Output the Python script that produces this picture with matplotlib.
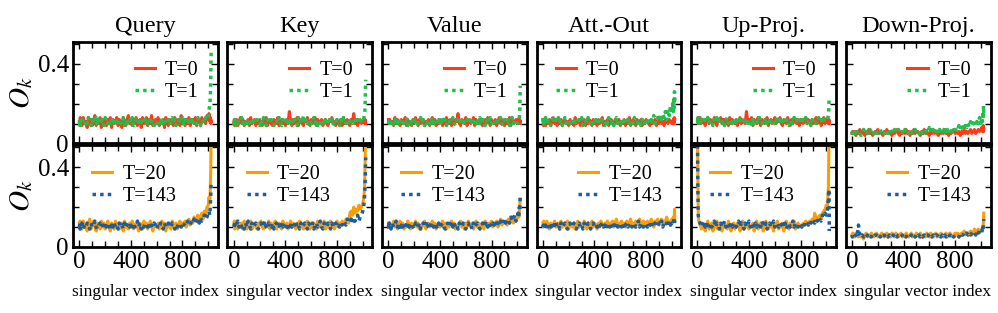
import matplotlib
matplotlib.use("Agg")
import matplotlib.pyplot as plt
from matplotlib.ticker import MultipleLocator, FixedLocator

plt.rcParams['font.family'] = ['Liberation Serif', 'DejaVu Serif']
plt.rcParams['mathtext.fontset'] = 'stix'

# ---------------- data ----------------
titles = ["Query", "Key", "Value", "Att.-Out", "Up-Proj.", "Down-Proj."]
idx = [0, 3, 6] + list(range(10, 1001, 10)) + [1006, 1012, 1016, 1019, 1021, 1023]

top_labels = ["T=0", "T=1"]
bot_labels = ["T=20", "T=143"]

# ---- top row (T=0, T=1) ----
query_t0 = [.11,.09,.13,
    .12,.09,.13,.10,.11,.08,.13,.10,.12,.09,
    .11,.14,.09,.12,.10,.13,.08,.11,.12,.10,
    .09,.12,.11,.13,.08,.12,.10,.11,.13,.09,
    .12,.10,.08,.13,.11,.09,.12,.14,.10,.11,
    .09,.12,.10,.13,.09,.11,.12,.08,.13,.10,
    .11,.13,.09,.12,.10,.14,.09,.11,.12,.10,
    .13,.09,.11,.10,.12,.08,.13,.11,.09,.12,
    .10,.12,.09,.13,.11,.10,.12,.09,.14,.10,
    .11,.09,.12,.10,.13,.09,.11,.12,.10,.13,
    .09,.12,.11,.10,.13,.11,.12,.10,.14,.12,
    .15,.11,.13,.10,.12,.11]
query_t1 = [.10,.12,.09,
    .10,.12,.11,.09,.12,.10,.13,.11,.09,.12,
    .10,.11,.13,.09,.12,.10,.11,.12,.09,.13,
    .11,.10,.12,.09,.11,.13,.10,.12,.11,.09,
    .12,.10,.11,.13,.09,.12,.10,.11,.12,.10,
    .13,.09,.11,.12,.10,.11,.09,.13,.11,.10,
    .12,.09,.11,.10,.13,.11,.12,.09,.11,.10,
    .12,.11,.09,.13,.10,.12,.11,.10,.12,.09,
    .11,.13,.10,.12,.09,.11,.12,.10,.11,.13,
    .09,.12,.10,.11,.13,.10,.12,.09,.11,.12,
    .10,.13,.11,.09,.12,.11,.10,.13,.12,.14,
    .17,.19,.23,.31,.40,.47]
key_t0 = [.10,.12,.09,
    .10,.12,.09,.11,.13,.10,.12,.09,.11,.10,
    .12,.09,.13,.10,.11,.12,.09,.11,.10,.12,
    .11,.09,.12,.10,.13,.09,.11,.12,.10,.09,
    .12,.11,.10,.13,.09,.11,.12,.10,.11,.09,
    .12,.10,.16,.11,.09,.12,.10,.11,.13,.09,
    .11,.12,.10,.09,.12,.11,.13,.10,.09,.12,
    .10,.11,.13,.09,.12,.10,.11,.12,.09,.11,
    .12,.10,.09,.12,.11,.13,.10,.11,.09,.12,
    .10,.11,.12,.09,.13,.10,.11,.12,.10,.09,
    .12,.11,.15,.10,.12,.09,.11,.12,.10,.11,
    .11,.12,.10,.12,.11,.10]
key_t1 = [.11,.09,.12,
    .11,.09,.12,.10,.11,.13,.10,.12,.09,.11,
    .10,.12,.11,.09,.13,.10,.11,.12,.10,.09,
    .12,.10,.13,.11,.09,.12,.10,.11,.12,.10,
    .09,.11,.12,.10,.13,.11,.09,.12,.10,.11,
    .13,.10,.12,.09,.11,.10,.12,.11,.09,.13,
    .10,.12,.11,.14,.10,.12,.09,.11,.12,.10,
    .11,.13,.10,.12,.09,.11,.10,.12,.11,.09,
    .12,.10,.11,.13,.10,.12,.09,.11,.10,.12,
    .11,.09,.12,.10,.13,.11,.10,.12,.09,.11,
    .12,.10,.11,.13,.10,.12,.11,.10,.12,.13,
    .12,.14,.16,.21,.27,.32]
value_t0 = [.12,.10,.11,
    .12,.10,.11,.09,.13,.10,.12,.11,.09,.12,
    .10,.11,.13,.09,.12,.10,.11,.09,.12,.10,
    .13,.11,.09,.12,.10,.11,.12,.09,.11,.10,
    .12,.09,.11,.13,.10,.12,.09,.11,.10,.12,
    .11,.09,.12,.10,.13,.11,.10,.12,.09,.11,
    .10,.12,.11,.15,.10,.09,.12,.11,.10,.13,
    .09,.11,.12,.10,.11,.13,.09,.12,.10,.11,
    .12,.10,.09,.11,.12,.10,.13,.11,.09,.12,
    .11,.10,.12,.09,.11,.13,.10,.12,.11,.09,
    .12,.10,.11,.13,.09,.12,.10,.11,.12,.10,
    .12,.10,.11,.12,.10,.11]
value_t1 = [.10,.11,.12,
    .10,.11,.12,.09,.11,.13,.10,.12,.11,.09,
    .12,.10,.11,.13,.09,.11,.12,.10,.11,.12,
    .09,.12,.10,.11,.13,.10,.12,.09,.11,.10,
    .12,.11,.09,.13,.10,.12,.11,.10,.12,.09,
    .11,.13,.10,.12,.09,.11,.10,.12,.11,.13,
    .10,.09,.12,.11,.10,.12,.13,.09,.11,.10,
    .12,.11,.10,.13,.09,.11,.12,.10,.11,.09,
    .13,.10,.12,.11,.09,.12,.10,.11,.13,.10,
    .11,.12,.09,.10,.12,.11,.13,.10,.09,.12,
    .11,.10,.12,.09,.11,.13,.10,.12,.11,.10,
    .11,.12,.13,.16,.22,.29]
attout_t0 = [.12,.09,.11,
    .12,.09,.11,.10,.12,.09,.11,.13,.10,.12,
    .09,.11,.10,.12,.09,.11,.12,.10,.11,.09,
    .12,.10,.11,.09,.13,.10,.11,.12,.09,.11,
    .10,.12,.09,.11,.10,.12,.11,.09,.12,.10,
    .11,.09,.12,.10,.11,.13,.09,.11,.10,.12,
    .09,.11,.12,.10,.09,.12,.11,.10,.12,.09,
    .11,.10,.12,.09,.11,.10,.13,.09,.11,.12,
    .10,.09,.12,.11,.10,.12,.09,.11,.10,.12,
    .11,.10,.09,.12,.10,.11,.12,.09,.11,.10,
    .12,.10,.11,.09,.12,.11,.10,.12,.11,.10,
    .11,.12,.10,.13,.11,.12]
attout_t1 = [.11,.13,.10,
    .11,.13,.10,.12,.11,.09,.12,.14,.10,.12,
    .11,.13,.10,.12,.09,.11,.13,.10,.12,.11,
    .10,.12,.11,.09,.13,.11,.10,.12,.11,.13,
    .09,.11,.12,.10,.13,.11,.10,.12,.09,.11,
    .12,.10,.13,.11,.10,.12,.11,.09,.12,.10,
    .13,.11,.10,.12,.09,.11,.13,.10,.12,.11,
    .10,.12,.11,.13,.10,.12,.09,.11,.12,.10,
    .13,.11,.10,.12,.11,.09,.12,.13,.10,.12,
    .11,.13,.10,.12,.11,.14,.10,.12,.13,.11,
    .14,.12,.15,.13,.16,.12,.17,.14,.19,.15,
    .20,.16,.23,.18,.26,.21]
upproj_t0 = [.11,.13,.10,
    .11,.13,.10,.12,.11,.09,.12,.13,.10,.12,
    .11,.10,.13,.11,.09,.12,.11,.13,.10,.12,
    .12,.10,.11,.09,.13,.10,.12,.11,.10,.12,
    .09,.11,.13,.10,.12,.11,.10,.16,.11,.12,
    .10,.13,.09,.12,.11,.10,.13,.11,.09,.12,
    .11,.10,.12,.13,.09,.11,.12,.10,.11,.13,
    .10,.12,.11,.13,.10,.09,.12,.11,.10,.13,
    .11,.09,.12,.10,.13,.11,.10,.12,.09,.11,
    .12,.10,.11,.13,.10,.12,.11,.09,.12,.10,
    .11,.13,.10,.11,.12,.09,.11,.13,.10,.12,
    .11,.12,.10,.11,.12,.10]
upproj_t1 = [.12,.10,.13,
    .12,.10,.13,.11,.10,.12,.11,.13,.10,.12,
    .11,.09,.12,.11,.13,.10,.12,.11,.10,.12,
    .09,.11,.13,.10,.12,.11,.10,.12,.09,.11,
    .13,.10,.12,.11,.10,.13,.11,.12,.10,.11,
    .12,.09,.13,.10,.11,.12,.10,.13,.11,.10,
    .12,.11,.13,.10,.11,.12,.09,.11,.12,.10,
    .13,.10,.11,.12,.10,.13,.11,.10,.12,.11,
    .09,.12,.11,.10,.13,.11,.12,.10,.11,.12,
    .10,.12,.11,.13,.10,.11,.12,.09,.12,.11,
    .12,.10,.11,.13,.11,.12,.10,.12,.11,.12,
    .12,.13,.14,.17,.21,.23]
downproj_t0 = [.05,.06,.05,
    .05,.06,.04,.06,.05,.07,.05,.06,.05,.04,
    .06,.05,.07,.05,.06,.04,.05,.06,.05,.07,
    .05,.06,.05,.04,.06,.05,.07,.05,.06,.05,
    .04,.06,.05,.06,.07,.05,.04,.06,.05,.06,
    .05,.07,.05,.06,.04,.06,.05,.07,.05,.06,
    .06,.05,.04,.06,.05,.07,.05,.06,.05,.04,
    .06,.05,.07,.05,.06,.05,.04,.06,.05,.06,
    .05,.07,.05,.06,.04,.06,.05,.06,.07,.05,
    .06,.05,.06,.04,.06,.05,.07,.05,.06,.05,
    .06,.07,.05,.06,.07,.05,.06,.07,.06,.07,
    .08,.06,.07,.09,.06,.07]
downproj_t1 = [.06,.05,.07,
    .06,.05,.07,.05,.06,.05,.04,.06,.07,.05,
    .06,.05,.06,.07,.05,.06,.05,.07,.06,.05,
    .06,.07,.05,.06,.05,.06,.07,.05,.06,.07,
    .05,.06,.07,.06,.05,.07,.06,.05,.06,.05,
    .07,.05,.06,.05,.07,.06,.05,.06,.07,.05,
    .06,.05,.07,.06,.05,.06,.07,.05,.06,.08,
    .06,.07,.05,.06,.08,.06,.05,.07,.06,.07,
    .06,.08,.06,.07,.05,.07,.08,.06,.07,.06,
    .08,.07,.09,.07,.08,.10,.07,.09,.08,.10,
    .08,.11,.09,.10,.12,.09,.11,.10,.13,.10,
    .13,.11,.16,.12,.19,.14]

# ---- bottom row (T=20, T=143) ----
query_t20 = [.12,.09,.13,
    .12,.09,.13,.10,.11,.08,.12,.14,.09,.11,
    .13,.10,.08,.12,.11,.09,.13,.10,.12,.09,
    .11,.13,.10,.08,.12,.11,.09,.13,.10,.12,
    .09,.11,.12,.08,.13,.10,.11,.09,.12,.10,
    .13,.09,.11,.12,.10,.08,.12,.11,.09,.13,
    .10,.12,.09,.11,.13,.10,.08,.12,.11,.10,
    .12,.09,.11,.13,.10,.12,.08,.11,.10,.12,
    .09,.13,.11,.10,.12,.09,.11,.13,.10,.12,
    .11,.13,.10,.12,.14,.11,.13,.12,.15,.13,
    .14,.16,.13,.15,.17,.14,.18,.16,.20,.21,
    .25,.22,.30,.38,.48,.60]
query_t143 = [.10,.12,.09,
    .10,.12,.09,.11,.10,.12,.11,.09,.12,.10,
    .11,.13,.10,.09,.11,.12,.10,.11,.09,.12,
    .10,.11,.12,.09,.11,.10,.12,.10,.11,.09,
    .12,.10,.11,.09,.12,.10,.11,.12,.10,.11,
    .09,.12,.10,.11,.13,.10,.12,.09,.11,.10,
    .12,.11,.10,.12,.09,.11,.10,.12,.11,.09,
    .11,.10,.12,.11,.09,.12,.10,.11,.12,.10,
    .10,.12,.11,.09,.11,.10,.12,.11,.10,.12,
    .11,.12,.11,.13,.12,.11,.13,.12,.14,.12,
    .13,.14,.12,.15,.13,.14,.16,.14,.15,.17,
    .18,.16,.21,.25,.30,.33]
key_t20 = [.11,.13,.09,
    .11,.13,.09,.12,.10,.12,.09,.13,.11,.09,
    .12,.10,.13,.09,.11,.12,.10,.09,.12,.11,
    .13,.10,.09,.12,.11,.10,.13,.09,.12,.10,
    .11,.13,.09,.11,.12,.10,.09,.13,.11,.10,
    .12,.09,.11,.13,.10,.12,.11,.09,.12,.10,
    .13,.10,.11,.09,.12,.10,.13,.11,.09,.12,
    .10,.12,.11,.09,.13,.10,.12,.11,.10,.13,
    .09,.12,.10,.11,.13,.10,.12,.09,.11,.13,
    .10,.12,.11,.13,.12,.11,.14,.13,.12,.17,
    .18,.16,.20,.17,.19,.18,.21,.19,.20,.22,
    .24,.28,.35,.45,.55,.60]
key_t143 = [.10,.11,.13,
    .10,.11,.13,.10,.12,.10,.11,.09,.12,.10,
    .13,.11,.09,.12,.10,.11,.12,.10,.09,.11,
    .12,.10,.11,.13,.10,.09,.12,.11,.10,.12,
    .09,.11,.12,.10,.11,.09,.12,.10,.11,.12,
    .10,.12,.09,.11,.10,.12,.11,.13,.10,.11,
    .09,.12,.10,.11,.12,.10,.09,.12,.11,.10,
    .12,.09,.11,.12,.10,.11,.13,.10,.09,.12,
    .11,.10,.12,.11,.09,.12,.10,.11,.12,.10,
    .11,.10,.12,.11,.13,.12,.11,.14,.12,.13,
    .14,.12,.15,.13,.14,.16,.13,.15,.16,.18,
    .20,.23,.28,.34,.40,.45]
value_t20 = [.12,.10,.11,
    .12,.10,.11,.13,.10,.12,.09,.11,.13,.10,
    .12,.09,.11,.10,.13,.11,.09,.12,.10,.11,
    .13,.10,.12,.09,.11,.10,.12,.13,.09,.11,
    .12,.10,.11,.13,.10,.12,.09,.11,.12,.10,
    .11,.13,.10,.12,.09,.11,.10,.12,.13,.10,
    .12,.09,.11,.10,.12,.13,.10,.11,.09,.12,
    .10,.13,.11,.10,.12,.09,.11,.13,.10,.12,
    .11,.10,.12,.09,.13,.11,.10,.12,.11,.13,
    .10,.12,.11,.13,.10,.12,.14,.11,.13,.12,
    .13,.11,.14,.12,.13,.15,.12,.14,.13,.15,
    .16,.15,.18,.20,.23,.24]
value_t143 = [.11,.09,.12,
    .11,.09,.12,.10,.11,.13,.10,.12,.09,.11,
    .10,.12,.11,.09,.12,.10,.11,.12,.10,.09,
    .12,.11,.10,.12,.09,.11,.12,.10,.11,.13,
    .10,.09,.12,.11,.10,.12,.11,.09,.12,.10,
    .11,.12,.10,.09,.11,.12,.10,.11,.13,.10,
    .12,.10,.11,.09,.12,.11,.10,.12,.11,.09,
    .11,.12,.10,.11,.09,.12,.10,.11,.12,.10,
    .09,.11,.12,.10,.11,.13,.10,.12,.11,.10,
    .12,.11,.13,.10,.12,.11,.13,.12,.11,.14,
    .12,.14,.13,.12,.15,.13,.14,.16,.13,.15,
    .17,.15,.20,.18,.23,.26]
attout_t20 = [.12,.10,.13,
    .12,.10,.13,.11,.09,.12,.10,.11,.13,.10,
    .11,.12,.09,.13,.10,.11,.12,.10,.13,.09,
    .12,.11,.10,.12,.09,.11,.13,.10,.12,.11,
    .10,.13,.11,.09,.12,.10,.11,.13,.10,.12,
    .11,.09,.12,.10,.13,.11,.10,.12,.11,.13,
    .10,.12,.11,.13,.10,.12,.14,.11,.10,.12,
    .13,.11,.12,.10,.13,.11,.12,.14,.11,.12,
    .10,.13,.12,.11,.14,.12,.10,.13,.12,.11,
    .13,.12,.11,.14,.12,.10,.13,.12,.14,.11,
    .12,.14,.11,.13,.12,.15,.12,.13,.11,.14,
    .12,.15,.13,.14,.19,.13]
attout_t143 = [.10,.11,.09,
    .10,.11,.09,.12,.11,.10,.12,.09,.11,.13,
    .10,.11,.09,.12,.10,.11,.12,.10,.09,.11,
    .12,.10,.11,.12,.10,.09,.11,.12,.10,.11,
    .09,.12,.11,.10,.12,.11,.09,.11,.12,.10,
    .11,.10,.12,.09,.11,.12,.10,.11,.09,.12,
    .11,.10,.12,.11,.09,.11,.12,.10,.11,.12,
    .10,.12,.09,.11,.12,.10,.11,.12,.10,.11,
    .12,.10,.11,.13,.10,.12,.11,.10,.12,.11,
    .10,.12,.11,.13,.10,.11,.12,.11,.10,.12,
    .11,.13,.10,.12,.11,.12,.10,.13,.11,.12,
    .11,.12,.14,.12,.13,.12]
upproj_t20 = [.60,.35,.17,
    .13,.11,.09,.12,.10,.08,.11,.13,.09,.10,
    .12,.08,.11,.10,.13,.09,.11,.10,.08,.12,
    .10,.11,.09,.13,.10,.08,.11,.12,.09,.10,
    .12,.11,.08,.10,.13,.09,.11,.10,.12,.09,
    .11,.10,.12,.08,.11,.13,.09,.10,.12,.11,
    .08,.11,.13,.10,.09,.12,.10,.11,.08,.12,
    .10,.13,.09,.11,.10,.12,.08,.11,.13,.10,
    .09,.12,.11,.10,.13,.09,.11,.12,.10,.11,
    .10,.12,.11,.13,.12,.11,.13,.12,.14,.12,
    .17,.14,.13,.15,.16,.14,.17,.18,.19,.21,
    .19,.25,.30,.45,.60,.55]
upproj_t143 = [.55,.30,.16,
    .14,.12,.10,.11,.13,.10,.12,.09,.11,.12,
    .10,.11,.13,.10,.12,.11,.09,.12,.10,.11,
    .13,.10,.12,.11,.09,.12,.10,.11,.12,.10,
    .11,.13,.10,.12,.11,.09,.12,.10,.11,.13,
    .10,.12,.11,.09,.12,.10,.11,.12,.10,.13,
    .11,.10,.12,.09,.11,.12,.10,.11,.13,.10,
    .12,.11,.10,.12,.11,.13,.10,.12,.09,.11,
    .12,.10,.11,.13,.10,.12,.11,.10,.12,.11,
    .10,.12,.11,.13,.12,.11,.13,.12,.14,.13,
    .12,.14,.13,.15,.14,.13,.16,.15,.17,.16,
    .18,.20,.24,.29,.27,.08]
downproj_t20 = [.06,.05,.07,
    .06,.05,.07,.06,.05,.07,.05,.06,.04,.06,
    .07,.05,.06,.05,.07,.06,.05,.06,.07,.05,
    .06,.05,.07,.06,.05,.06,.07,.05,.06,.05,
    .07,.06,.05,.07,.06,.05,.06,.07,.05,.06,
    .05,.07,.06,.05,.06,.07,.05,.06,.05,.07,
    .06,.05,.07,.06,.05,.06,.05,.07,.06,.05,
    .07,.06,.05,.06,.07,.05,.06,.05,.07,.06,
    .05,.06,.07,.05,.06,.07,.06,.05,.06,.07,
    .06,.07,.05,.06,.07,.06,.08,.06,.07,.06,
    .07,.08,.06,.07,.09,.07,.08,.09,.07,.08,
    .08,.10,.09,.12,.14,.17]
downproj_t143 = [.06,.05,.06,
    .06,.05,.06,.05,.11,.06,.05,.06,.05,.06,
    .05,.06,.05,.06,.05,.06,.05,.06,.06,.05,
    .06,.05,.06,.05,.06,.05,.06,.05,.06,.05,
    .05,.06,.05,.06,.05,.06,.06,.05,.06,.05,
    .06,.05,.06,.06,.05,.06,.05,.06,.05,.06,
    .05,.06,.05,.06,.05,.06,.05,.06,.06,.05,
    .06,.05,.06,.05,.06,.06,.05,.06,.05,.06,
    .05,.06,.05,.06,.05,.06,.05,.06,.05,.06,
    .06,.06,.05,.07,.06,.06,.07,.06,.07,.06,
    .07,.06,.07,.08,.07,.06,.08,.07,.08,.07,
    .07,.09,.08,.10,.12,.14]

top_series = [(query_t0, query_t1), (key_t0, key_t1), (value_t0, value_t1),
              (attout_t0, attout_t1), (upproj_t0, upproj_t1), (downproj_t0, downproj_t1)]
bot_series = [(query_t20, query_t143), (key_t20, key_t143), (value_t20, value_t143),
              (attout_t20, attout_t143), (upproj_t20, upproj_t143), (downproj_t20, downproj_t143)]

top_leg_loc = ["upper right", "upper right", "upper right", "upper left", "upper right", "upper right"]
bot_leg_loc = ["upper left", "upper left", "upper left", "upper right", "upper left", "upper right"]

# ---------------- style ----------------
c_t0, c_t1 = "#ff3a1c", "#1fbf4c"
c_t20, c_t143 = "#ff9d00", "#1a5fa6"

fig, axes = plt.subplots(2, 6, figsize=(9.98, 3.13), dpi=100)
fig.subplots_adjust(left=0.0731, right=0.9925, top=0.866, bottom=0.211,
                    wspace=0.066, hspace=0.02)

def style(ax, row, col):
    ax.set_xlim(-50, 1075)
    ax.set_ylim(0, 0.51)
    ax.xaxis.set_major_locator(FixedLocator([0, 400, 800]))
    ax.xaxis.set_minor_locator(MultipleLocator(100))
    ax.yaxis.set_major_locator(FixedLocator([0, 0.4]))
    ax.yaxis.set_minor_locator(MultipleLocator(0.1))
    ax.tick_params(which='both', direction='in', top=True, right=True, width=1)
    ax.tick_params(which='major', length=5, labelsize=18, pad=3)
    ax.tick_params(which='minor', length=4)
    for sp in ax.spines.values():
        sp.set_linewidth(2)
    if col == 0:
        ax.set_yticklabels(["0", "0.4"])
        ax.set_ylabel("$O_k$", fontsize=21, labelpad=2)
    else:
        ax.set_yticklabels([])
    if row == 0:
        ax.set_xticklabels([])
    else:
        ax.set_xticklabels(["0", "400", "800"])
        ax.set_xlabel("singular vector index", fontsize=12.5, labelpad=8)

leg_kw = dict(frameon=False, fontsize=14.5, handlelength=1.0, handletextpad=0.5,
              labelspacing=0.15, borderaxespad=0.55)

for j in range(6):
    ax = axes[0, j]
    a, b = top_series[j]
    ax.plot(idx, a, color=c_t0, lw=2.2, ls='-', label=top_labels[0])
    ax.plot(idx, b, color=c_t1, lw=2.5, ls=(0, (1, 1.2)), label=top_labels[1])
    ax.set_title(titles[j], fontsize=17.5, pad=7)
    style(ax, 0, j)
    ax.legend(loc=top_leg_loc[j], **leg_kw)

    ax = axes[1, j]
    a, b = bot_series[j]
    ax.plot(idx, a, color=c_t20, lw=2.2, ls='-', label=bot_labels[0])
    ax.plot(idx, b, color=c_t143, lw=2.5, ls=(0, (1, 1.2)), label=bot_labels[1])
    style(ax, 1, j)
    ax.legend(loc=bot_leg_loc[j], **leg_kw)

fig.savefig("out.png", dpi=100)
